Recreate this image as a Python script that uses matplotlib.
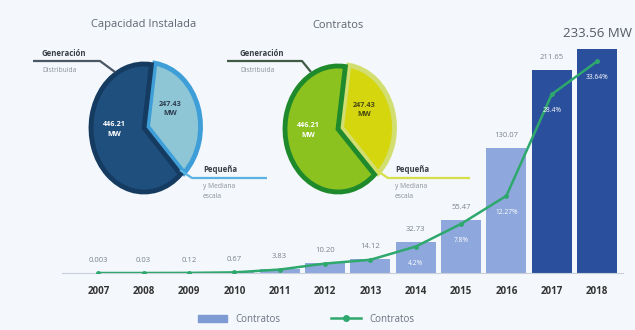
import numpy as np
import matplotlib
matplotlib.use("Agg")
import matplotlib.pyplot as plt
from matplotlib.lines import Line2D

plt.rcParams['font.family'] = ['Open Sans', 'DejaVu Sans']

# yearly capacity (MW) and share line (%)
years = ['2007', '2008', '2009', '2010', '2011', '2012',
         '2013', '2014', '2015', '2016', '2017', '2018']
capacidad = [0.003, 0.03, 0.12, 0.67, 3.83, 10.20,
             14.12, 32.73, 55.47, 130.07, 211.65, 233.56]
cap_labels = ['0.003', '0.03', '0.12', '0.67', '3.83', '10.20',
              '14.12', '32.73', '55.47', '130.07', '211.65', '233.56 MW']
porcentaje = [0.0, 0.0, 0.02, 0.1, 0.55, 1.5, 2.1, 4.2, 7.8, 12.27, 28.4, 33.64]
pct_labels = ['', '', '', '', '', '', '', '4.2%', '7.8%', '12.27%', '28.4%', '33.64%']

# pie data (MW)
pie_labels = ['Pequeña y Mediana escala', 'Generación Distribuida']
pie_cap = [247.43, 446.21]
pie_con = [247.43, 446.21]

W, H = 635, 330
bg = '#f4f7fb'
fig = plt.figure(figsize=(W / 100, H / 100), dpi=100, facecolor=bg)

def frac(x0, y0, w, h):
    # pixel box (top-left origin) -> figure fraction
    return [x0 / W, 1 - (y0 + h) / H, w / W, h / H]

# ---- bars + line ----
ax = fig.add_axes(frac(62, 20, 561, 253))
ax.set_facecolor('none')
x = np.arange(len(years))
colors = ['#8ea7dc'] * 10 + ['#2a4f9c'] * 2
ax.bar(x, capacidad, width=0.88, color=colors, zorder=2)
ax.set_xlim(-0.8, 11.57)
ax.set_ylim(0, 263.5)
for sp in ['top', 'right', 'left']:
    ax.spines[sp].set_visible(False)
ax.spines['bottom'].set_color('#c9cfd8')
ax.spines['bottom'].set_linewidth(0.8)
ax.set_yticks([])
ax.set_xticks(x)
ax.set_xticklabels(years, fontsize=7, fontweight='bold', color='#333333')
ax.tick_params(axis='x', length=0, pad=9)

for i, (v, lab) in enumerate(zip(capacidad, cap_labels)):
    if i == len(years) - 1:
        ax.annotate(lab, (i, v), xytext=(0, 11), textcoords='offset points',
                    ha='center', va='center', fontsize=9.5, color='#555a63')
    else:
        ax.annotate(lab, (i, v), xytext=(0, 9), textcoords='offset points',
                    ha='center', va='center', fontsize=5.5, color='#7d838d')

ax2 = ax.twinx()
ax2.set_ylim(0, 40.2)
ax2.axis('off')
ax2.plot(x, porcentaje, color='#2fa86e', lw=1.8, marker='o', ms=2.5, zorder=3)
for i, (v, lab) in enumerate(zip(porcentaje, pct_labels)):
    if lab:
        ax2.annotate(lab, (i, v), xytext=(0, -12), textcoords='offset points',
                     ha='center', va='center', fontsize=4.8, color='white')

# legend
handles = [plt.Rectangle((0, 0), 1, 1, color='#7f9bd4'),
           Line2D([0], [0], color='#2fa86e', lw=1.8, marker='o', ms=4)]
fig.legend(handles, ['Contratos', 'Contratos'], loc='center',
           bbox_to_anchor=(0.482, 0.033), ncol=2, frameon=False,
           fontsize=7, labelcolor='#6b7280', handlelength=3.0,
           columnspacing=5.2, handletextpad=0.9)

# ---- pies ----
def draw_pie(cx, cy, rx, ry, vals, fills, edges, txt_colors, title):
    # axes box sized so that a unit radius spans rx by ry pixels
    pa = fig.add_axes(frac(cx - 1.25 * rx, cy - 1.25 * ry, 2.5 * rx, 2.5 * ry))
    pa.set_facecolor('none')
    wedges, _ = pa.pie(vals, startangle=82, counterclock=False,
                       colors=fills, explode=[0.07, 0.0], radius=1.0,
                       wedgeprops=dict(linewidth=3.5))
    for w, ec in zip(wedges, edges):
        w.set_edgecolor(ec)
    pa.set_xlim(-1.25, 1.25)
    pa.set_ylim(-1.25, 1.25)
    pa.set_aspect('auto')
    offsets = [(0.5, 0.3), (-0.56, -0.02)]
    for w, v, tc, (ox, oy) in zip(wedges, vals, txt_colors, offsets):
        pa.text(ox, oy, f'{v:.2f}\nMW', ha='center', va='center',
                fontsize=5.2, fontweight='bold', color=tc, linespacing=1.5)
    fig.text(cx / W, 1 - 25 / H, title, ha='center', va='center',
             fontsize=8, color='#5f6670')

draw_pie(144, 128, 53, 64, pie_cap, ['#8fc6d6', '#1f4f7d'], ['#3e9fd8', '#163b61'],
         ['#2c3e50', 'white'], 'Capacidad Instalada')
draw_pie(338, 129, 53, 63, pie_con, ['#d5d60e', '#8cc21f'], ['#d2df70', '#1f8a2c'],
         ['#4a4a10', 'white'], 'Contratos')

# ---- leader lines and callouts ----
ov = fig.add_axes([0, 0, 1, 1])
ov.set_xlim(0, W)
ov.set_ylim(H, 0)
ov.axis('off')
ov.set_facecolor('none')

def callouts(gx0, gx1, gtip, gcol, gtext_x, px0, pbend, px1, pcol, ptext_x):
    ov.plot([gx0, gx1, gtip[0]], [61, 61, gtip[1]], color=gcol, lw=1.6,
            solid_capstyle='butt')
    ov.text(gtext_x, 53, 'Generación', fontsize=5.6, fontweight='bold',
            color='#3a3f46', va='center')
    ov.text(gtext_x, 70, 'Distribuida', fontsize=4.8, color='#8a9099',
            va='center')
    ov.plot([px0[0], pbend, px1], [px0[1], 178, 178], color=pcol, lw=1.6,
            solid_capstyle='butt')
    ov.text(ptext_x, 170, 'Pequeña', fontsize=5.6, fontweight='bold',
            color='#3a3f46', va='center')
    ov.text(ptext_x, 187, 'y Mediana', fontsize=4.8, color='#8a9099',
            va='center')
    ov.text(ptext_x, 197, 'escala', fontsize=4.8, color='#8a9099',
            va='center')

callouts(33, 100, (115, 72), '#4a5866', 42, (180, 170), 192, 267, '#5bb3e3', 203)
callouts(227, 302, (311, 72), '#3f5a45', 240, (376, 170), 388, 470, '#d6e04a', 395)

fig.savefig('out.png', dpi=100, facecolor=bg)
